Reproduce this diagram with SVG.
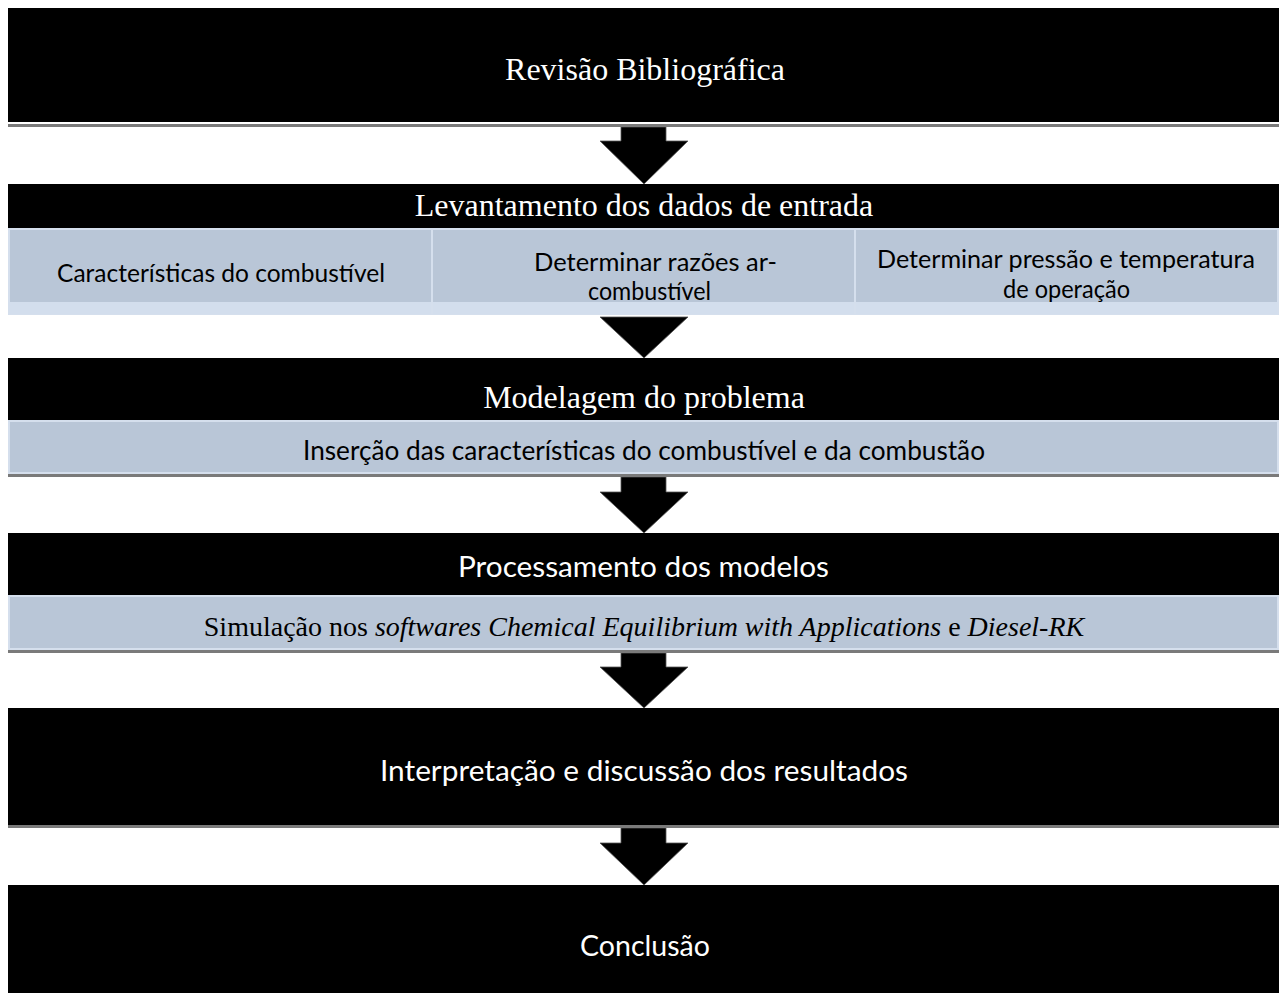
<svg xmlns="http://www.w3.org/2000/svg" width="1279" height="993" viewBox="0 0 1279 993">
<style>
.blk{fill:#000}
.lt{fill:#b9c6d7;stroke:#d5dfed;stroke-width:2}
.band{fill:#d3deed}
.shd{fill:#7a7a7a}
.arr{fill:#000;stroke:#555;stroke-width:0.8;stroke-linejoin:miter}
.tms{font-family:"Liberation Serif","Times New Roman",serif;fill:#fff;font-size:32px;text-anchor:middle}
.tmsd{font-family:"Liberation Serif","Times New Roman",serif;fill:#000;font-size:28px;text-anchor:middle}
.cw{font-family:Lato,"Open Sans",sans-serif;fill:#fff;font-size:29.5px}
.cd{font-family:Lato,"Open Sans",sans-serif;fill:#000}
</style>
<rect width="1279" height="993" fill="#fff"/>
<g id="connectors">
  <polygon id="arrow1" points="621,127 666,127 666,141 688,141 644,184 600,141 621,141" class="arr"/>
  <g id="arrow2"><rect x="621" y="302" width="45" height="13" fill="#b8c4d5"/><polygon points="600,317 688,317 644,358" class="arr"/></g>
  <polygon id="arrow3" points="621,477 666,477 666,492 688,492 644,533 600,492 621,492" class="arr"/>
  <polygon id="arrow4" points="621,653 666,653 666,667 688,667 644,708 600,667 621,667" class="arr"/>
  <polygon id="arrow5" points="621,828 666,828 666,843 688,843 644,885 600,843 621,843" class="arr"/>
</g>
<g id="node1">
  <rect x="8" y="8" width="1271" height="114" class="blk"/>
  <rect x="8" y="124" width="1271" height="3" class="shd"/>
  <text x="645" y="80" class="tms">Revisão Bibliográfica</text>
</g>
<g id="node2">
  <rect x="8" y="184" width="1271" height="44" class="blk"/>
  <text x="644" y="216" class="tms">Levantamento dos dados de entrada</text>
  <rect x="9" y="229" width="1269" height="85" class="lt"/>
  <rect x="10" y="302" width="1267" height="12" class="band"/>
  <line x1="432" y1="229" x2="432" y2="315" stroke="#d5dfed" stroke-width="2"/>
  <line x1="855" y1="229" x2="855" y2="315" stroke="#d5dfed" stroke-width="2"/>
  <text x="57" y="282" class="cd" font-size="24.5" textLength="328" lengthAdjust="spacingAndGlyphs">Características do combustível</text>
  <text x="534" y="271" class="cd" font-size="24.5" textLength="243" lengthAdjust="spacingAndGlyphs">Determinar razões ar-</text>
  <text x="588" y="300" class="cd" font-size="24.5" textLength="123" lengthAdjust="spacingAndGlyphs">combustível</text>
  <text x="877" y="268" class="cd" font-size="24.5" textLength="378" lengthAdjust="spacingAndGlyphs">Determinar pressão e temperatura</text>
  <text x="1003" y="298" class="cd" font-size="24.5" textLength="127" lengthAdjust="spacingAndGlyphs">de operação</text>
</g>
<g id="node3">
  <rect x="8" y="358" width="1271" height="62" class="blk"/>
  <text x="644" y="408" class="tms">Modelagem do problema</text>
  <rect x="9" y="421" width="1269" height="52" class="lt"/>
  <rect x="8" y="474" width="1271" height="3" class="shd"/>
  <text x="303" y="460" class="cd" font-size="26" textLength="682" lengthAdjust="spacingAndGlyphs">Inserção das características do combustível e da combustão</text>
</g>
<g id="node4">
  <rect x="8" y="533" width="1271" height="62" class="blk"/>
  <text x="458" y="577" class="cw" textLength="371" lengthAdjust="spacingAndGlyphs">Processamento dos modelos</text>
  <rect x="9" y="596" width="1269" height="53" class="lt"/>
  <rect x="8" y="650" width="1271" height="3" class="shd"/>
  <text x="644" y="636" class="tmsd">Simulação nos <tspan font-style="italic">softwares Chemical Equilibrium with Applications</tspan> e <tspan font-style="italic">Diesel-RK</tspan></text>
</g>
<g id="node5">
  <rect x="8" y="708" width="1271" height="117" class="blk"/>
  <rect x="8" y="825" width="1271" height="3" class="shd"/>
  <text x="380" y="781" class="cw" textLength="528" lengthAdjust="spacingAndGlyphs">Interpretação e discussão dos resultados</text>
</g>
<g id="node6">
  <rect x="8" y="885" width="1271" height="108" class="blk"/>
  <text x="580" y="956" class="cw" textLength="130" lengthAdjust="spacingAndGlyphs">Conclusão</text>
</g>
</svg>
